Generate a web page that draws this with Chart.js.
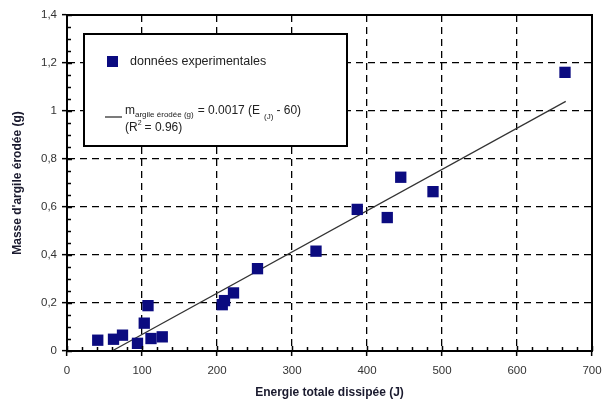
<!DOCTYPE html>
<html>
<head>
<meta charset="utf-8">
<script src="https://cdn.jsdelivr.net/npm/chart.js@4.4.0/dist/chart.umd.min.js"></script>
<style>
  html, body { margin: 0; padding: 0; background: #fff; }
  #wrap { width: 603px; height: 408px; }
</style>
</head>
<body>
<div id="wrap"><canvas id="chart" width="603" height="408"></canvas></div>
<script>
// energie dissipee (J) / masse d'argile erodee (g)
var energie = [41, 62, 74, 94, 103, 108, 112, 127, 207, 210, 222, 254, 332, 387, 427, 445, 488, 664];
var masse = [0.045, 0.049, 0.066, 0.032, 0.116, 0.189, 0.052, 0.059, 0.193, 0.21, 0.242, 0.343, 0.416, 0.59, 0.556, 0.724, 0.664, 1.161];

// droite de regression, extremites
var droiteE = [60, 665];
var droiteM = [0, 1.04];

var legendeDonnees = "données experimentales";

var points = energie.map(function (e, i) { return { x: e, y: masse[i] }; });
var droite = droiteE.map(function (e, i) { return { x: e, y: droiteM[i] }; });

var bleu = "#0b0b80";
var police = "'Liberation Sans', Arial, sans-serif";

// cadre, petites graduations et legende
var decor = {
  id: "decor",
  afterDraw: function (chart) {
    var ctx = chart.ctx;
    var a = chart.chartArea;
    var xs = chart.scales.x, ys = chart.scales.y;
    ctx.save();
    ctx.strokeStyle = "#000";
    ctx.lineWidth = 1.5;
    ctx.setLineDash([]);
    ctx.beginPath();
    // graduations x (majeures dedans, mineures tous les 20)
    for (var v = 0; v <= 700; v += 20) {
      var px = Math.round(xs.getPixelForValue(v)) + 0.5;
      var len = (v % 100 === 0) ? 5 : 4;
      ctx.moveTo(px, a.bottom);
      ctx.lineTo(px, a.bottom - len);
    }
    for (var k = 0; k <= 28; k++) {
      var w = k * 0.05;
      var py = Math.round(ys.getPixelForValue(w)) + 0.5;
      var l2 = (k % 4 === 0) ? 5 : 4;
      ctx.moveTo(a.left, py);
      ctx.lineTo(a.left + l2, py);
    }
    ctx.stroke();

    // cadre
    ctx.lineWidth = 2;
    ctx.strokeRect(a.left, a.top, a.right - a.left, a.bottom - a.top);

    // legende
    var bx = 84, by = 34, bw = 263, bh = 112;
    ctx.fillStyle = "#fff";
    ctx.fillRect(bx, by, bw, bh);
    ctx.lineWidth = 2;
    ctx.strokeStyle = "#000";
    ctx.strokeRect(bx, by, bw, bh);

    ctx.fillStyle = bleu;
    ctx.fillRect(107, 56, 11, 11);

    ctx.fillStyle = "#222";
    ctx.textBaseline = "middle";
    ctx.textAlign = "left";
    ctx.font = "12.5px " + police;
    ctx.fillText(legendeDonnees, 130, 62);

    ctx.strokeStyle = "#222";
    ctx.lineWidth = 1.2;
    ctx.beginPath();
    ctx.moveTo(105, 117);
    ctx.lineTo(122, 117);
    ctx.stroke();

    var x = 125;
    ctx.font = "12px " + police;
    ctx.fillText("m", x, 111);
    x += ctx.measureText("m").width;
    ctx.font = "8px " + police;
    ctx.fillText("argile érodée (g)", x, 115);
    x += ctx.measureText("argile érodée (g)").width + 4;
    ctx.font = "12px " + police;
    ctx.fillText("= 0.0017 (E", x, 111);
    x += ctx.measureText("= 0.0017 (E").width + 4;
    ctx.font = "8px " + police;
    ctx.fillText("(J)", x, 117);
    x += ctx.measureText("(J)").width + 3;
    ctx.font = "12px " + police;
    ctx.fillText("- 60)", x, 111);

    x = 125;
    ctx.fillText("(R", x, 128);
    x += ctx.measureText("(R").width;
    ctx.font = "7px " + police;
    ctx.fillText("2", x, 123);
    x += ctx.measureText("2").width + 3;
    ctx.font = "12px " + police;
    ctx.fillText("= 0.96)", x, 128);
    ctx.restore();
  }
};

new Chart(document.getElementById("chart"), {
  type: "scatter",
  data: {
    datasets: [
      {
        label: legendeDonnees,
        data: points,
        pointStyle: "rect",
        pointRadius: 8,
        pointHoverRadius: 8,
        backgroundColor: bleu,
        borderColor: bleu,
        borderWidth: 0,
        order: 1
      },
      {
        type: "line",
        label: "m = 0.0017 (E - 60)",
        data: droite,
        borderColor: "#333",
        borderWidth: 1.2,
        pointRadius: 0,
        fill: false,
        order: 2
      }
    ]
  },
  options: {
    responsive: false,
    animation: false,
    layout: { padding: { top: 15, right: 0, left: 0, bottom: 0 } },
    plugins: {
      legend: { display: false },
      tooltip: { enabled: false }
    },
    scales: {
      x: {
        type: "linear",
        min: 0,
        max: 700,
        afterFit: function (s) {
          s.height = 57;
          s.paddingRight = 11;
          s.paddingLeft = 0;
        },
        ticks: {
          stepSize: 100,
          padding: 8,
          color: "#333",
          font: { family: police, size: 11.5 }
        },
        grid: {
          color: "#000",
          lineWidth: 1.3,
          tickLength: 5,
          tickColor: "#000",
          tickWidth: 1.5,
          tickBorderDash: []
        },
        border: { display: true, color: "#000", width: 2, dash: [7, 5] },
        title: {
          display: true,
          text: "Energie totale dissipée (J)",
          color: "#1a1a2e",
          font: { family: police, size: 12, weight: "bold" },
          padding: { top: 0, bottom: 8 }
        }
      },
      y: {
        min: 0,
        max: 1.4,
        afterFit: function (s) { s.width = 67; },
        ticks: {
          stepSize: 0.2,
          padding: 5,
          color: "#333",
          font: { family: police, size: 11.5 },
          callback: function (v) { return String(Math.round(v * 10) / 10).replace(".", ","); }
        },
        grid: {
          color: "#000",
          lineWidth: 1.3,
          tickLength: 5,
          tickColor: "#000",
          tickWidth: 1.5,
          tickBorderDash: []
        },
        border: { display: true, color: "#000", width: 2, dash: [7, 5] },
        title: {
          display: true,
          text: "Masse d'argile érodée (g)",
          color: "#1a1a2e",
          font: { family: police, size: 12, weight: "bold" },
          padding: { top: 10, bottom: 0 }
        }
      }
    }
  },
  plugins: [decor]
});
</script>
</body>
</html>
